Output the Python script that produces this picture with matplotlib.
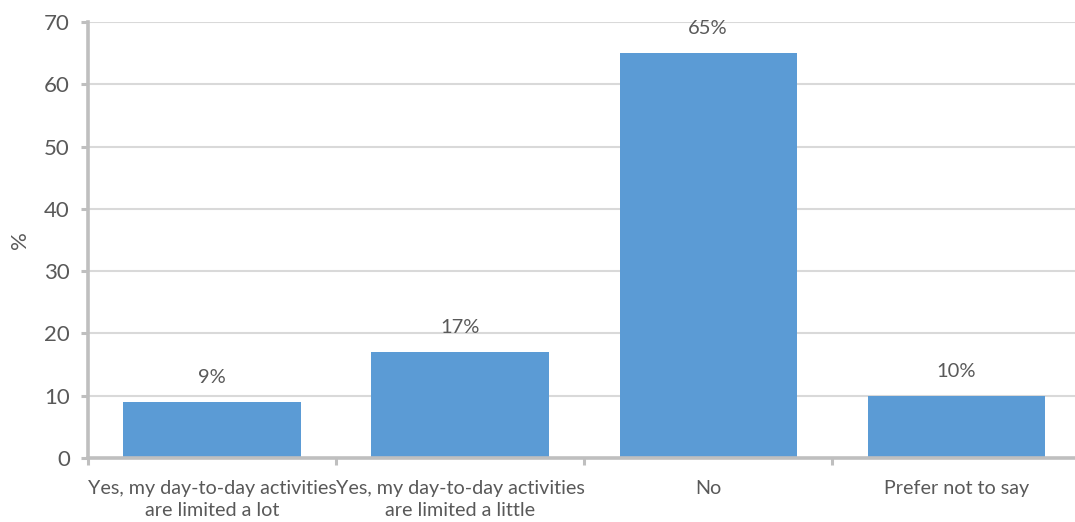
import numpy as np
import matplotlib
matplotlib.use("Agg")
import matplotlib.pyplot as plt

categories = [
    "Yes, my day-to-day activities\nare limited a lot",
    "Yes, my day-to-day activities\nare limited a little",
    "No",
    "Prefer not to say",
]
values = [9, 17, 65, 10]
yticks = [0, 10, 20, 30, 40, 50, 60, 70]

text_col = "#595959"
axis_col = "#BFBFBF"
plt.rcParams["font.family"] = ["Lato", "DejaVu Sans"]

fig = plt.figure(figsize=(10.75, 5.22), dpi=100)
ax = fig.add_axes([0.0819, 0.1226, 0.923, 0.8353])

x = np.arange(len(categories))
ax.bar(x, values, width=0.715, color="#5B9BD5", zorder=3)

for xi, v in zip(x, values):
    ax.text(xi, v + 2.6, "{}%".format(v), ha="center", va="bottom",
            fontsize=14.5, color=text_col)

ax.set_xlim(-0.5, len(categories) - 0.5)
ax.set_ylim(0, 70)
ax.set_yticks(yticks)
ax.set_yticklabels([str(t) for t in yticks], fontsize=16, color=text_col)
ax.set_ylabel("%", fontsize=16, color=text_col, labelpad=10)

# category labels sit between the boundary ticks
ax.set_xticks(np.arange(len(categories) + 1) - 0.5)
ax.set_xticklabels([])
ax.set_xticks(x, minor=True)
ax.set_xticklabels(categories, minor=True, fontsize=14.2, color=text_col,
                   linespacing=1.35)
ax.tick_params(axis="x", which="minor", length=0, pad=16)
ax.tick_params(axis="x", which="major", length=5, width=2.2, color=axis_col)
ax.tick_params(axis="y", length=5, width=2.2, color=axis_col, pad=8)

ax.grid(axis="y", color="#D9D9D9", linewidth=1.5, zorder=0)
for side in ["top", "right"]:
    ax.spines[side].set_visible(False)
for side in ["left", "bottom"]:
    ax.spines[side].set_color(axis_col)
    ax.spines[side].set_linewidth(2.6)
    ax.spines[side].set_zorder(4)

fig.savefig("out.png", dpi=100)
